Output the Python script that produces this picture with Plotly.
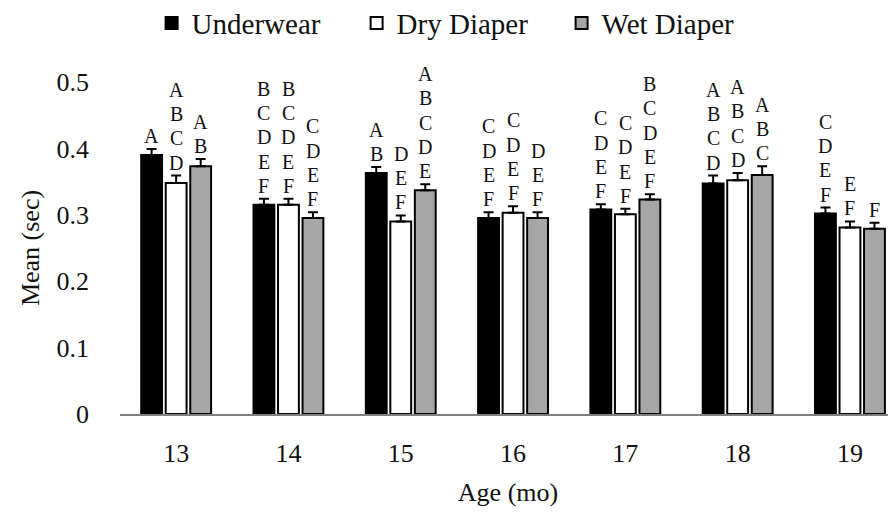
import plotly.graph_objects as go

ages = ["13", "14", "15", "16", "17", "18", "19"]
series_names = ["Underwear", "Dry Diaper", "Wet Diaper"]
underwear = [0.390, 0.315, 0.363, 0.295, 0.308, 0.347, 0.302]
dry_diaper = [0.348, 0.315, 0.290, 0.303, 0.301, 0.352, 0.281]
wet_diaper = [0.373, 0.295, 0.337, 0.295, 0.323, 0.360, 0.279]
underwear_err = [0.009, 0.009, 0.009, 0.009, 0.008, 0.012, 0.009]
dry_diaper_err = [0.011, 0.009, 0.009, 0.010, 0.008, 0.011, 0.009]
wet_diaper_err = [0.011, 0.009, 0.009, 0.009, 0.008, 0.013, 0.009]
underwear_letters = ["A", "BCDEF", "AB", "CDEF", "CDEF", "ABCD", "CDEF"]
dry_diaper_letters = ["ABCD", "BCDEF", "DEF", "CDEF", "CDEF", "ABCD", "EF"]
wet_diaper_letters = ["AB", "CDEF", "ABCDE", "DEF", "BCDEF", "ABC", "F"]
y_ticks = [0, 0.1, 0.2, 0.3, 0.4, 0.5]
y_tick_labels = ["0", "0.1", "0.2", "0.3", "0.4", "0.5"]

values = [underwear, dry_diaper, wet_diaper]
errors = [underwear_err, dry_diaper_err, wet_diaper_err]
letters = [underwear_letters, dry_diaper_letters, wet_diaper_letters]
colors = ["#000000", "#FFFFFF", "#A6A6A6"]

FONT = "Liberation Serif"
TXT = "#111111"
bargap = 0.345
LETTER_STEP = 24.3

fig = go.Figure()
for k in range(3):
    fig.add_trace(go.Bar(
        name=series_names[k], x=ages, y=values[k],
        marker=dict(color=colors[k], line=dict(color="#000000", width=2)),
        error_y=dict(type="data", array=errors[k], arrayminus=[0] * len(ages),
                     symmetric=False, color="#000000", thickness=2, width=5),
    ))

annotations = []
slot = (1 - bargap) / 3
for k in range(3):
    for i in range(len(ages)):
        stack = letters[k][i]
        n = len(stack)
        for j, ch in enumerate(stack):
            annotations.append(dict(
                x=i + (k - 1) * slot, y=values[k][i] + errors[k][i],
                xref="x", yref="y", text=ch,
                showarrow=False, yanchor="bottom", xanchor="center",
                yshift=(n - 1 - j) * LETTER_STEP,
                font=dict(family=FONT, size=20, color=TXT),
            ))

fig.update_layout(
    template="none",
    width=888, height=509,
    margin=dict(l=112, r=0, t=74, b=103, autoexpand=False),
    paper_bgcolor="white", plot_bgcolor="white",
    barmode="group", bargap=bargap, bargroupgap=0.15,
    font=dict(family=FONT, size=26, color=TXT),
    showlegend=True,
    legend=dict(orientation="h", xref="container", yref="container",
                x=0.508, xanchor="center", y=0.97, yanchor="middle",
                font=dict(family=FONT, size=29, color=TXT),
                itemwidth=30, entrywidth=160, traceorder="normal"),
    annotations=annotations,
)
fig.update_xaxes(type="category", range=[-0.5, 6.41], showline=True,
                 linecolor="#7f7f7f", linewidth=1.5, ticks="", showgrid=False,
                 tickfont=dict(family=FONT, size=26), ticklabelstandoff=15,
                 title=dict(text="Age (mo)", font=dict(family=FONT, size=26), standoff=16))
fig.update_yaxes(range=[0, 0.5], tickvals=y_ticks, ticktext=y_tick_labels,
                 showgrid=False, showline=False, zeroline=False, ticks="",
                 tickfont=dict(family=FONT, size=26), ticklabelstandoff=30,
                 title=dict(text="Mean (sec)", font=dict(family=FONT, size=26), standoff=9))

fig.write_html("out.html")
